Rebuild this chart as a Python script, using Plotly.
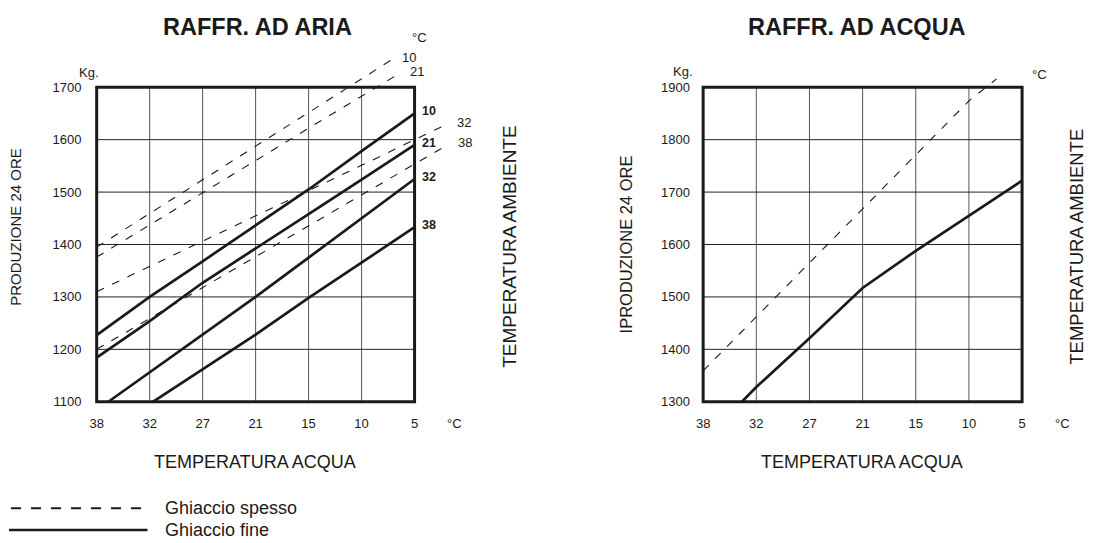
import plotly.graph_objects as go

OFFX, OFFY = 11, 8            # where the figure lands in the page (body margin)
W, H = 1085, 535
FONT = "Liberation Sans, Arial, Helvetica, sans-serif"
INK = "#1a1a1a"

# ---- data -------------------------------------------------------------
TEMPS = ["38", "32", "27", "21", "15", "10", "5"]          # water temperature (°C)
TEMP_POS = list(range(len(TEMPS)))                         # evenly spaced ticks
AIR_KG_TICKS = [1100, 1200, 1300, 1400, 1500, 1600, 1700]
WATER_KG_TICKS = [1300, 1400, 1500, 1600, 1700, 1800, 1900]

AMBIENT = ["10", "21", "32", "38"]                          # ambient temperature (°C)

# Air cooled - Ghiaccio fine (solid)
AIR_FINE_X = [
    [0, 1, 2, 3, 4, 5, 6],
    [0, 1, 2, 3, 4, 5, 6],
    [0.22, 1, 2, 3, 4, 5, 6],
    [1.06, 2, 3, 4, 5, 6],
]
AIR_FINE_Y = [
    [1227, 1300, 1368, 1437, 1505, 1578, 1650],
    [1184, 1254, 1327, 1392, 1458, 1524, 1590],
    [1100, 1156, 1228, 1300, 1375, 1450, 1525],
    [1100, 1162, 1228, 1298, 1366, 1433],
]

# Air cooled - Ghiaccio spesso (dashed)
AIR_THICK_X = [
    [0, 1, 2, 3, 4, 5, 5.56],
    [0, 1, 2, 3, 4, 5, 5.71],
    [0, 1, 2, 3, 4, 5, 6, 6.6],
    [0, 1, 2, 3, 4, 5, 6, 6.62],
]
AIR_THICK_Y = [
    [1395, 1459, 1523, 1588, 1652, 1716, 1752],
    [1376, 1437, 1499, 1560, 1622, 1683, 1726],
    [1310, 1358, 1406, 1454, 1502, 1551, 1600, 1629],
    [1200, 1259, 1318, 1377, 1436, 1495, 1554, 1590],
]

# Water cooled
WATER_FINE_X = [0.73, 1, 2, 3, 4, 5, 6]
WATER_FINE_Y = [1300, 1328, 1421, 1517, 1588, 1655, 1722]
WATER_THICK_X = [0, 1, 2, 3, 4, 5, 5.52]
WATER_THICK_Y = [1359, 1462, 1565, 1668, 1771, 1874, 1916]

# ---- layout geometry (page pixels -> paper fractions) -------------------
XR = [-0.06, 6.8]
AIR_YR = [1092, 1770]
WATER_YR = [1292, 1970]


def px(x, y):
    return (x - OFFX) / W, 1 - (y - OFFY) / H


Y_DOM = [px(0, 408.2)[1], px(0, 50.8)[1]]
X1_DOM = [px(92.8, 0)[0], px(457.6, 0)[0]]
X2_DOM = [px(701.5, 0)[0], px(1067.5, 0)[0]]

fig = go.Figure()

solid = dict(color=INK, width=2.7)
dashed = dict(color=INK, width=1.1, dash="8px,9px")

for xs, ys in zip(AIR_THICK_X, AIR_THICK_Y):
    fig.add_trace(go.Scatter(x=xs, y=ys, mode="lines", line=dashed,
                             xaxis="x", yaxis="y", hoverinfo="skip", showlegend=False))
for xs, ys in zip(AIR_FINE_X, AIR_FINE_Y):
    fig.add_trace(go.Scatter(x=xs, y=ys, mode="lines", line=solid,
                             xaxis="x", yaxis="y", hoverinfo="skip", showlegend=False))
fig.add_trace(go.Scatter(x=WATER_THICK_X, y=WATER_THICK_Y, mode="lines", line=dashed,
                         xaxis="x2", yaxis="y2", hoverinfo="skip", showlegend=False))
fig.add_trace(go.Scatter(x=WATER_FINE_X, y=WATER_FINE_Y, mode="lines", line=solid,
                         xaxis="x2", yaxis="y2", hoverinfo="skip", showlegend=False))

shapes = []
for xa, ya, ticks in (("x", "y", AIR_KG_TICKS), ("x2", "y2", WATER_KG_TICKS)):
    for t in TEMP_POS[1:-1]:
        shapes.append(dict(type="line", xref=xa, yref=ya, x0=t, x1=t, y0=ticks[0], y1=ticks[-1],
                           line=dict(color="#555", width=1), layer="below"))
    for k in ticks[1:-1]:
        shapes.append(dict(type="line", xref=xa, yref=ya, x0=TEMP_POS[0], x1=TEMP_POS[-1], y0=k, y1=k,
                           line=dict(color="#222", width=1), layer="below"))
    shapes.append(dict(type="rect", xref=xa, yref=ya, x0=TEMP_POS[0], x1=TEMP_POS[-1],
                       y0=ticks[0], y1=ticks[-1], line=dict(color=INK, width=3),
                       fillcolor="rgba(0,0,0,0)", layer="above"))

# legend samples
lx0, ly = px(10, 511)
lx1, _ = px(147, 511)
shapes.append(dict(type="line", xref="paper", yref="paper", x0=lx0, x1=lx1, y0=ly, y1=ly,
                   line=dict(color=INK, width=2, dash="10px,10px")))
lx0, ly = px(8, 533)
shapes.append(dict(type="line", xref="paper", yref="paper", x0=lx0, x1=lx1, y0=ly, y1=ly,
                   line=dict(color=INK, width=2.6)))

ann = []


def text(x, y, s, size, bold=False, angle=0, xanchor="center"):
    ax, ay = px(x, y)
    ann.append(dict(x=ax, y=ay, xref="paper", yref="paper", text=f"<b>{s}</b>" if bold else s,
                    showarrow=False, xanchor=xanchor, yanchor="middle", textangle=angle,
                    font=dict(family=FONT, size=size, color=INK)))


text(257, 27, "RAFFR. AD ARIA", 23.5, bold=True)
text(859, 27, "RAFFR. AD ACQUA", 23.5, bold=True)
text(255, 465, "TEMPERATURA ACQUA", 18)
text(864, 465, "TEMPERATURA ACQUA", 18)
text(15, 228, "PRODUZIONE 24 ORE", 15, angle=-90)
text(627, 246, "IPRODUZIONE 24 ORE", 16.5, angle=-90)
text(510, 248, "TEMPERATURA AMBIENTE", 19, angle=-90)
text(1080, 248, "TEMPERATURA AMBIENTE", 18.5, angle=-90)
text(88, 73, "Kg.", 13)
text(684, 72, "Kg.", 13)
text(420, 38, "°C", 13)
text(1042, 75, "°C", 13)
text(455, 426, "°C", 13)
text(1065, 426, "°C", 13)
text(163, 511, "Ghiaccio spesso", 18, xanchor="left")
text(163, 533, "Ghiaccio fine", 18, xanchor="left")

# line labels (at line ends)
for name, xs, ys in zip(AMBIENT, AIR_FINE_X, AIR_FINE_Y):
    ann.append(dict(x=xs[-1], y=ys[-1], xref="x", yref="y", text=f"<b>{name}</b>", showarrow=False,
                    xanchor="left", yanchor="middle", xshift=5, yshift=2,
                    font=dict(family=FONT, size=12.5, color=INK)))
for name, xs, ys in zip(AMBIENT, AIR_THICK_X, AIR_THICK_Y):
    ann.append(dict(x=xs[-1], y=ys[-1], xref="x", yref="y", text=name, showarrow=False,
                    xanchor="left", yanchor="middle", xshift=9, yshift=2,
                    font=dict(family=FONT, size=13, color=INK)))

axis_common = dict(showgrid=False, zeroline=False, showline=False, ticks="",
                   tickfont=dict(family=FONT, size=13, color=INK), fixedrange=True)

fig.update_layout(
    width=W, height=H, autosize=False,
    margin=dict(l=0, r=0, t=0, b=0),
    paper_bgcolor="white", plot_bgcolor="white",
    showlegend=False,
    xaxis=dict(domain=X1_DOM, range=XR, anchor="y", tickvals=TEMP_POS, ticktext=TEMPS,
               ticklabelstandoff=8, **axis_common),
    yaxis=dict(domain=Y_DOM, range=AIR_YR, anchor="x", tickvals=AIR_KG_TICKS,
               ticklabelstandoff=11, **axis_common),
    xaxis2=dict(domain=X2_DOM, range=XR, anchor="y2", tickvals=TEMP_POS, ticktext=TEMPS,
                ticklabelstandoff=8, **axis_common),
    yaxis2=dict(domain=Y_DOM, range=WATER_YR, anchor="x2", tickvals=WATER_KG_TICKS,
                ticklabelstandoff=9, **axis_common),
    shapes=shapes,
    annotations=ann,
)

fig.write_html("out.html")
